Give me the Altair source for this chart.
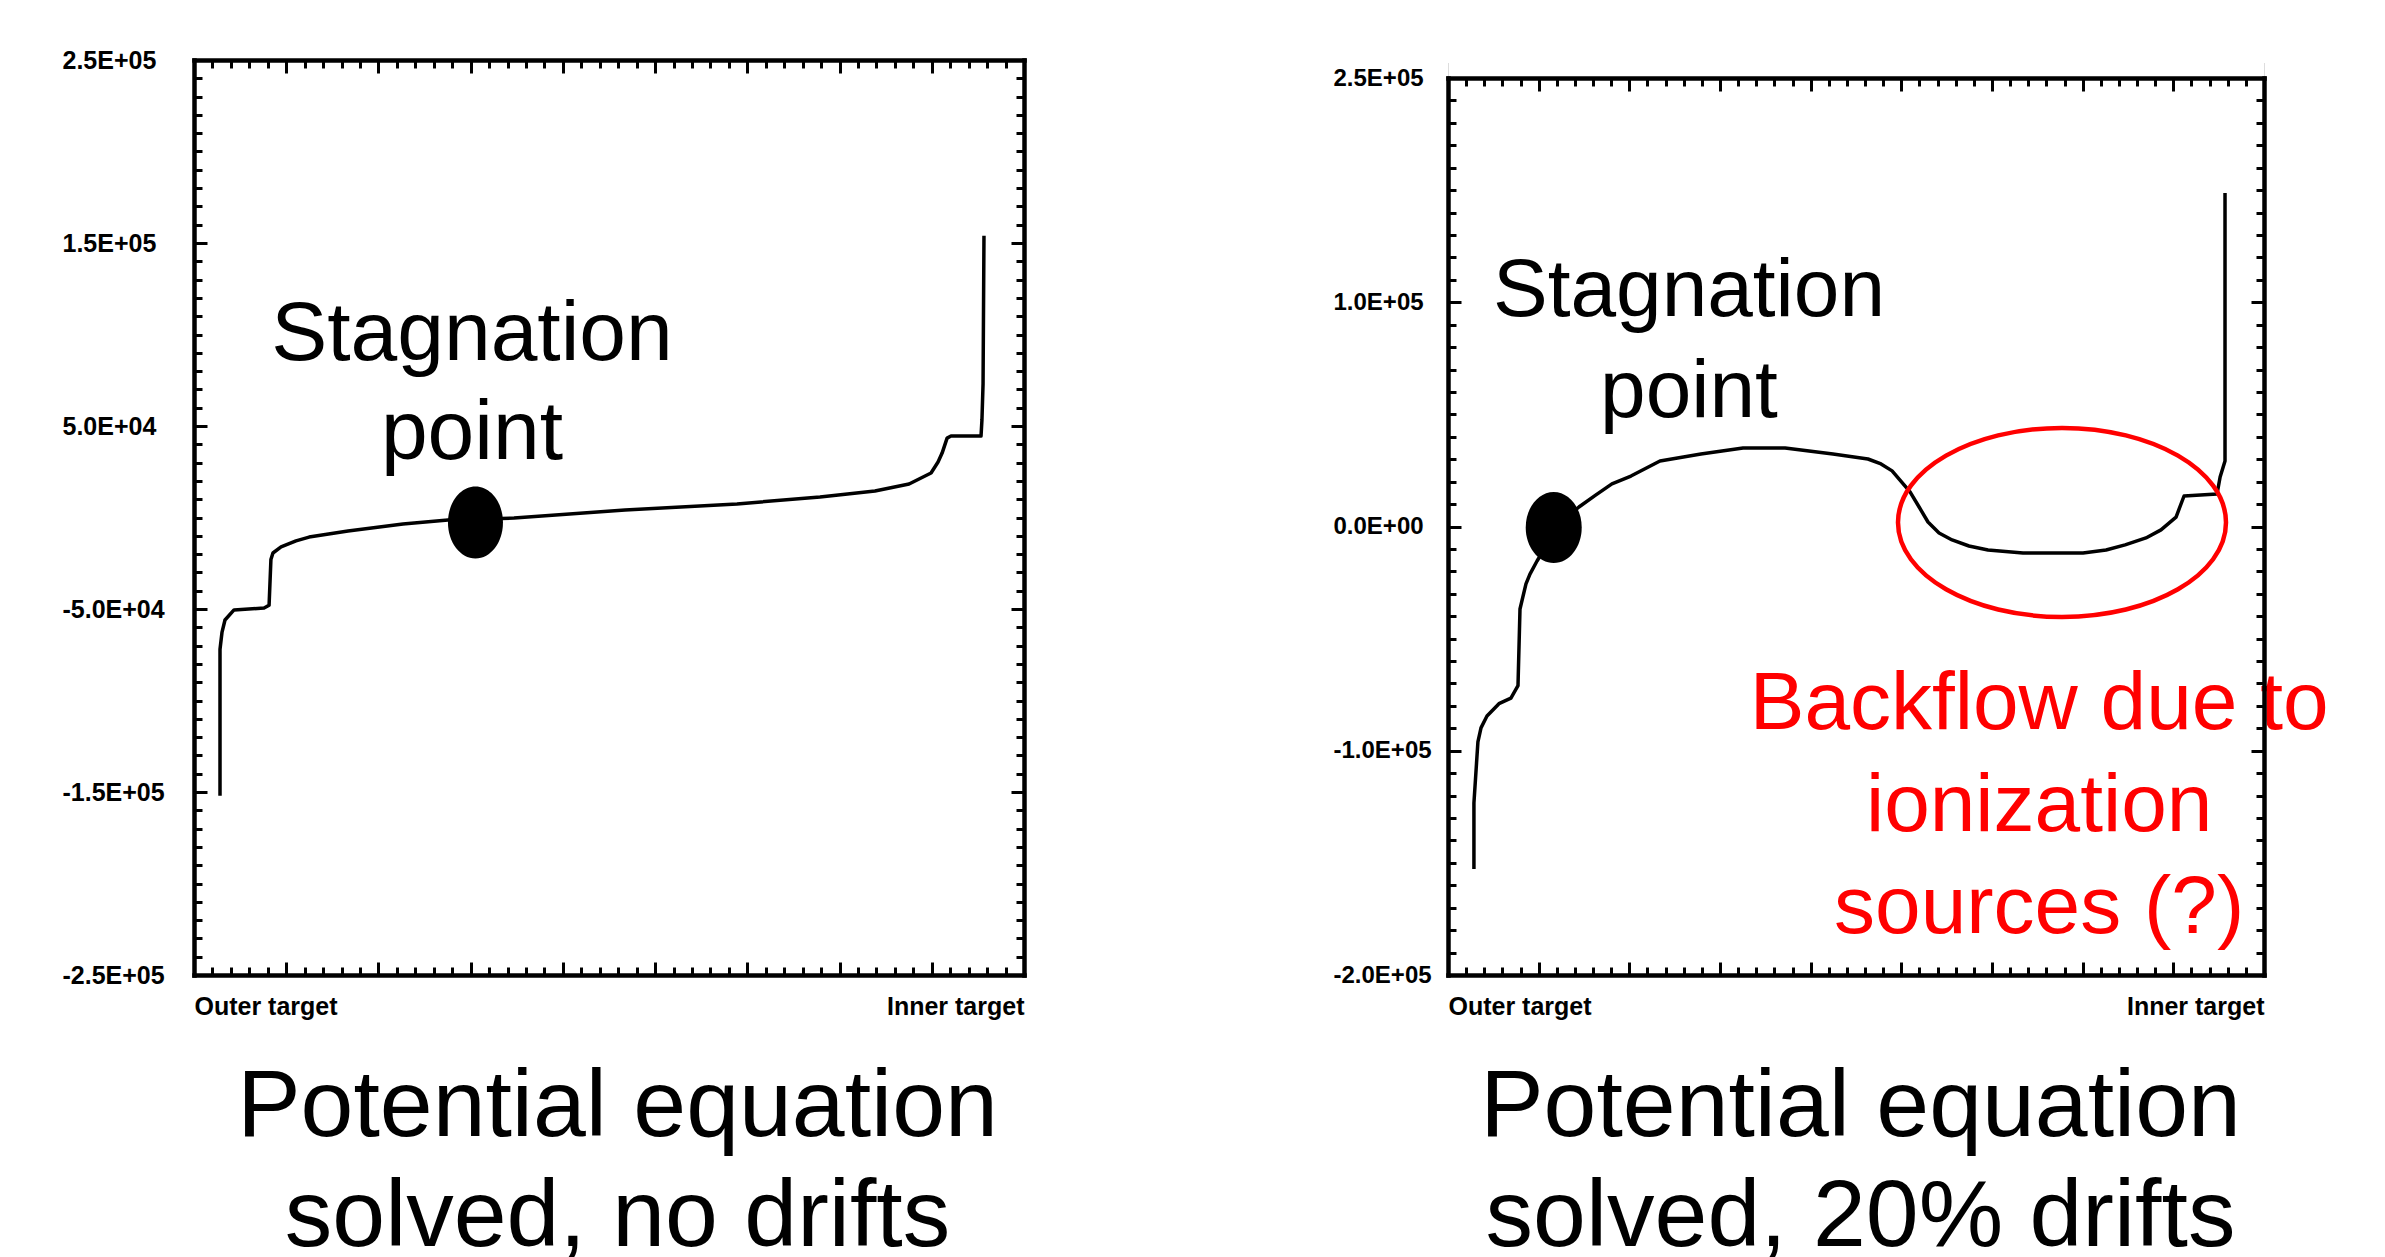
import altair as alt
import pandas as pd

FONT = "Liberation Sans"

# ---------------- data ----------------
# x runs from 0 (outer target) to 45 (inner target)
left_x = [1.41, 1.41, 1.52, 1.68, 2.17, 3.80, 4.07, 4.17, 4.28, 4.72, 5.53, 6.24, 8.35,
          11.33, 13.77, 17.35, 23.37, 29.44, 33.94, 36.92, 38.77, 39.96, 40.34,
          40.56, 40.83, 41.04, 42.67, 42.72, 42.78, 42.83]
left_y = [-152000, -72000, -62600, -56000, -50500, -49500, -48000, -23000, -19400, -16100,
          -12800, -10700, -7400, -3600, -1400, -300, 4100, 7400, 11200, 14500,
          18300, 24300, 30300, 35200, 43400, 44500, 44500, 53300, 73000, 154000]

right_x = [1.43, 1.43, 1.65, 1.82, 2.15, 2.81, 3.47, 3.86, 3.97, 4.30, 4.52, 4.91, 5.35,
           5.85, 7.22, 8.16, 9.04, 10.09, 11.69, 13.95, 16.27, 18.59, 21.23, 23.16,
           23.88, 24.49, 25.48, 25.98, 26.47, 27.08, 27.80, 28.73, 29.78, 31.71, 35.02,
           36.29, 37.34, 38.49, 39.32, 40.15, 40.59, 42.41, 42.58, 42.85, 42.85]
right_y = [-152700, -123300, -96000, -89800, -84500, -79000, -76500, -71000, -36800,
           -25600, -21200, -15400, -9600, -700, 8700, 14100, 19000, 22500, 29200, 32300,
           35000, 35000, 32300, 30100, 27900, 24800, 15400, 8700, 2000, -2900, -6000,
           -8700, -10500, -11800, -11800, -10500, -8200, -5100, -1500, 4200, 13600,
           14500, 22100, 29200, 148700]

left_ydomain = [-250000, 250000]
right_ydomain = [-200000, 200000]
xdomain = [0, 45]

left_ytick_values = list(range(-250000, 250001, 10000))
left_ylabel_values = [250000, 150000, 50000, -50000, -150000, -250000]
left_ylabel_text = ["2.5E+05", "1.5E+05", "5.0E+04", "-5.0E+04", "-1.5E+05", "-2.5E+05"]

right_ytick_values = list(range(-200000, 200001, 10000))
right_ylabel_values = [200000, 100000, 0, -100000, -200000]
right_ylabel_text = ["2.5E+05", "1.0E+05", "0.0E+00", "-1.0E+05", "-2.0E+05"]

xtick_values = list(range(0, 46))
xlabel_values = [0, 45]
xlabel_text = ["Outer target", "Inner target"]

left_caption = ["Potential equation", "solved, no drifts"]
right_caption = ["Potential equation", "solved, 20% drifts"]

# annotations (data coordinates)
left_note_x = [15.07]
left_note_y = [86000]
left_note_text = ["Stagnation\npoint"]
left_dot_x = [15.26]
left_dot_y = [-2700]

right_note_x = [13.29]
right_note_y = [93900]
right_note_text = ["Stagnation\npoint"]
right_dot_x = [5.83]
right_dot_y = [-400]

red_note_x = [32.6]
red_note_y = [-90300]
red_note_text = ["Backflow due to\nionization\nsources (?)"]
red_ring_x = [33.86]
red_ring_y = [1800]


# ---------------- helpers ----------------
def ellipse_path(a, b):
    k = 0.5523
    f = lambda v: f"{v:.4f}"
    return (f"M {f(-a)} 0 C {f(-a)} {f(-k*b)} {f(-k*a)} {f(-b)} 0 {f(-b)} "
            f"C {f(k*a)} {f(-b)} {f(a)} {f(-k*b)} {f(a)} 0 "
            f"C {f(a)} {f(k*b)} {f(k*a)} {f(b)} 0 {f(b)} "
            f"C {f(-k*a)} {f(b)} {f(-a)} {f(k*b)} {f(-a)} 0 Z")


def label_expr(values, texts):
    e = "''"
    for v, t in reversed(list(zip(values, texts))):
        e = f"datum.value == {v} ? '{t}' : ({e})"
    return e


FRAME = dict(domainColor="black", domainWidth=4.5, domainCap="square")
TICKS = dict(labels=False, title=None, grid=False, tickColor="black", tickWidth=3, zindex=1)


def panel(xs, ys, ydom, W, H, top_gap, ylab_vals, ylab_txt, ytick_vals, ymajor_test,
          ylab_size, ylab_pad, caption, title_x,
          note_x, note_y, note_text, note_size, note_lh, dot_x, dot_y, dot_w, dot_h,
          extra_layers_fn=None):
    df = pd.DataFrame({"x": xs, "y": ys, "i": list(range(len(xs)))})
    xs_scale = alt.Scale(domain=xdomain, nice=False, zero=False)
    ys_scale = alt.Scale(domain=ydom, nice=False, zero=False, range=[H, top_gap])
    base = alt.Chart(df)

    x_tick_size = {"condition": {"test": "datum.value % 5 === 0", "value": 13}, "value": 8}
    y_tick_size = {"condition": {"test": ymajor_test, "value": 13}, "value": 8}

    curve = base.mark_line(color="black", strokeWidth=3.5, strokeJoin="round").encode(
        x=alt.X("x:Q", scale=xs_scale, axis=alt.Axis(
            orient="bottom", values=xlabel_values,
            labelExpr=label_expr(xlabel_values, xlabel_text),
            labelFlush=True, ticks=False, tickSize=0, domain=True, **FRAME,
            labelFont=FONT, labelFontWeight="bold", labelFontSize=25,
            labelColor="black", labelPadding=39, labelBaseline="alphabetic",
            labelOverlap=False, grid=False,
            title=caption, titleFont=FONT, titleFontSize=95, titleFontWeight="normal",
            titleColor="black", titleLineHeight=110, titleX=title_x, titleY=160,
            titleAlign="center", titleBaseline="alphabetic", zindex=1)),
        y=alt.Y("y:Q", scale=ys_scale, axis=alt.Axis(
            orient="left", values=ylab_vals,
            labelExpr=label_expr(ylab_vals, ylab_txt),
            ticks=False, tickSize=0, domain=True, **FRAME,
            labelFont=FONT, labelFontWeight="bold", labelFontSize=ylab_size,
            labelColor="black", labelAlign="left", labelPadding=ylab_pad,
            labelBaseline="middle", labelFlush=False, labelOverlap=False,
            title=None, grid=False, zindex=1)),
        order=alt.Order("i:Q"),
    )

    ticks_in_a = base.mark_line(opacity=0).encode(
        x=alt.X("x:Q", scale=xs_scale, axis=alt.Axis(
            orient="top", offset=-H, values=xtick_values, tickSize=x_tick_size,
            domain=False, **TICKS)),
        y=alt.Y("y:Q", scale=ys_scale, axis=alt.Axis(
            orient="right", offset=-W, values=ytick_vals, tickSize=y_tick_size,
            domain=False, **TICKS)),
        order=alt.Order("i:Q"),
    )

    ticks_in_b = base.mark_line(opacity=0).encode(
        x=alt.X("x:Q", scale=xs_scale, axis=alt.Axis(
            orient="bottom", offset=-(H - top_gap), values=xtick_values,
            tickSize=x_tick_size, domain=True, **FRAME, **TICKS)),
        y=alt.Y("y:Q", scale=ys_scale, axis=alt.Axis(
            orient="left", offset=-W, values=ytick_vals, tickSize=y_tick_size,
            domain=True, **FRAME, **TICKS)),
        order=alt.Order("i:Q"),
    )

    dot_df = pd.DataFrame({"x": dot_x, "y": dot_y})
    dot = alt.Chart(dot_df).mark_point(
        shape=ellipse_path(dot_w / dot_h, 1.0), filled=True, color="black",
        opacity=1, size=dot_h * dot_h, strokeWidth=0,
    ).encode(x=alt.X("x:Q", scale=xs_scale, axis=None),
             y=alt.Y("y:Q", scale=ys_scale, axis=None))

    note_df = pd.DataFrame({"x": note_x, "y": note_y, "t": note_text})
    note = alt.Chart(note_df).mark_text(
        font=FONT, fontSize=note_size, align="center", baseline="alphabetic",
        lineBreak="\n", lineHeight=note_lh, color="black",
    ).encode(x=alt.X("x:Q", scale=xs_scale, axis=None),
             y=alt.Y("y:Q", scale=ys_scale, axis=None),
             text="t:N")

    layers = [curve, ticks_in_a, ticks_in_b, dot, note]
    if top_gap > 0:
        # white edge above the frame, hiding the faint cell border there
        mask = base.mark_line(opacity=0).encode(
            x=alt.X("x:Q", scale=xs_scale, axis=alt.Axis(
                orient="top", offset=0, ticks=False, labels=False, title=None,
                grid=False, domain=True, domainColor="white", domainWidth=5,
                domainCap="square", zindex=1)),
            y=alt.Y("y:Q", scale=ys_scale, axis=None),
            order=alt.Order("i:Q"),
        )
        layers.append(mask)
    if extra_layers_fn is not None:
        layers += extra_layers_fn(xs_scale, ys_scale)

    return alt.layer(*layers).resolve_axis(x="independent", y="independent").properties(
        width=W, height=H)


def red_layers(xs_scale, ys_scale):
    ring_df = pd.DataFrame({"x": red_ring_x, "y": red_ring_y})
    ring = alt.Chart(ring_df).mark_point(
        shape=ellipse_path(1.0, 189 / 328), filled=False, color="#ff0000",
        opacity=1, size=328 * 328, strokeWidth=4.5,
    ).encode(x=alt.X("x:Q", scale=xs_scale, axis=None),
             y=alt.Y("y:Q", scale=ys_scale, axis=None))
    red_df = pd.DataFrame({"x": red_note_x, "y": red_note_y, "t": red_note_text})
    red = alt.Chart(red_df).mark_text(
        font=FONT, fontSize=82, align="center", baseline="alphabetic",
        lineBreak="\n", lineHeight=102, color="#ff0000",
    ).encode(x=alt.X("x:Q", scale=xs_scale, axis=None),
             y=alt.Y("y:Q", scale=ys_scale, axis=None),
             text="t:N")
    return [ring, red]


left = panel(left_x, left_y, left_ydomain, 830, 915, 0,
             left_ylabel_values, left_ylabel_text, left_ytick_values,
             "abs(datum.value) % 100000 === 50000", 25, 132,
             left_caption, 423,
             left_note_x, left_note_y, left_note_text, 84, 99,
             left_dot_x, left_dot_y, 55, 72)

right = panel(right_x, right_y, right_ydomain, 816, 915, 18,
              right_ylabel_values, right_ylabel_text, right_ytick_values,
              "abs(datum.value) % 100000 === 0", 24, 115,
              right_caption, 412,
              right_note_x, right_note_y, right_note_text, 82, 101,
              right_dot_x, right_dot_y, 56, 71,
              extra_layers_fn=red_layers)

chart = alt.hconcat(left, right, spacing=306).properties(
    padding={"left": 61, "top": 47, "right": 10, "bottom": 0},
    background="white",
).configure_view(stroke="#ffffff", strokeWidth=0, strokeOpacity=0).configure(font=FONT)

chart.save("out.html", embed_options={"renderer": "svg", "actions": False})
